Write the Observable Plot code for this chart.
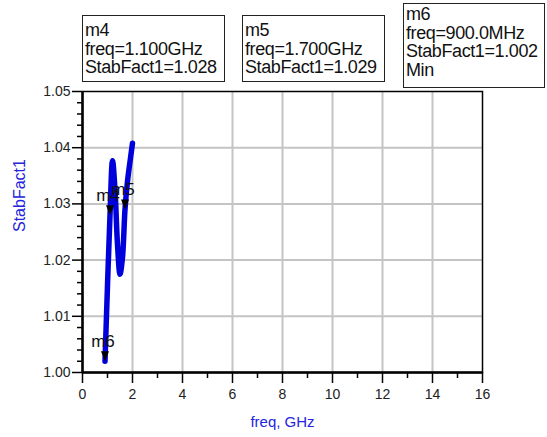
<!DOCTYPE html>
<html>
<head>
<meta charset="utf-8">
<script src="https://cdn.jsdelivr.net/npm/d3@7"></script>
<script src="https://cdn.jsdelivr.net/npm/@observablehq/plot@0.6"></script>
<style>
  html, body { margin: 0; padding: 0; background: white; }
  #wrap { position: relative; width: 547px; height: 437px; overflow: hidden; }
  .mbox {
    position: absolute; box-sizing: border-box; border: 1px solid #222; background: white;
    font-family: "Liberation Sans", Arial, sans-serif; font-size: 18px; letter-spacing: -0.4px;
    line-height: 18.6px; color: #111; padding-left: 2px; white-space: nowrap;
  }
</style>
</head>
<body>
<div id="wrap"></div>
<script>
// ---- data ----
const freq = [0.9, 1.0, 1.1, 1.2, 1.3, 1.4, 1.5, 1.6, 1.7, 1.8, 1.9, 2.0];
const stab = [1.002, 1.0155, 1.028, 1.0377, 1.0325, 1.0228, 1.0175, 1.0205, 1.029, 1.034, 1.0375, 1.0408];

const markerNames = ["m4", "m5", "m6"];
const markerFreq = [1.1, 1.7, 0.9];
const markerStab = [1.028, 1.029, 1.002];
const markerFreqText = ["1.100GHz", "1.700GHz", "900.0MHz"];
const markerStabText = ["1.028", "1.029", "1.002"];
const markerExtra = ["", "", "Min"];

const xMajorTicks = [0, 2, 4, 6, 8, 10, 12, 14, 16];
const xMinorTicks = [1, 3, 5, 7, 9, 11, 13, 15];
const yMajorTicks = [1.00, 1.01, 1.02, 1.03, 1.04, 1.05];
const yMinorTicks = [1.002, 1.004, 1.006, 1.008, 1.012, 1.014, 1.016, 1.018, 1.022, 1.024, 1.026, 1.028,
                     1.032, 1.034, 1.036, 1.038, 1.042, 1.044, 1.046, 1.048];
const xGrid = [2, 4, 6, 8, 10, 12, 14];
const yGrid = [1.01, 1.02, 1.03, 1.04];

const xLabel = "freq, GHz";
const yLabel = "StabFact1";

// ---- build ----
const curve = freq.map((f, i) => ({f, v: stab[i]}));
const markers = markerNames.map((n, i) => ({name: n, f: markerFreq[i], v: markerStab[i]}));

const downTriangle = {
  draw(ctx) {
    ctx.moveTo(0, 0);
    ctx.lineTo(-4, -10);
    ctx.lineTo(4, -10);
    ctx.closePath();
  }
};

const blue = "#0000dd";
const labelBlue = "#2424dd";

const chart = Plot.plot({
  width: 547,
  height: 437,
  marginLeft: 82,
  marginRight: 65,
  marginTop: 91,
  marginBottom: 65,
  style: {fontFamily: "'Liberation Sans', Arial, sans-serif", fontSize: "14px", background: "white", color: "#222"},
  x: {domain: [0, 16]},
  y: {domain: [1.0, 1.05]},
  marks: [
    Plot.gridX(xGrid, {stroke: "#c4c4c4", strokeOpacity: 1, strokeWidth: 2}),
    Plot.gridY(yGrid, {stroke: "#c4c4c4", strokeOpacity: 1, strokeWidth: 2}),
    Plot.frame({stroke: "black", strokeWidth: 1.5}),
    Plot.axisX({ticks: xMajorTicks, tickSize: 11, tickPadding: 6, strokeWidth: 1.5, stroke: "black", tickFormat: d3.format("d"), label: null}),
    Plot.axisX({ticks: xMinorTicks, tickSize: 6, strokeWidth: 1.5, stroke: "black", tickFormat: () => "", label: null}),
    Plot.axisY({ticks: yMajorTicks, tickSize: 10, tickPadding: 2, strokeWidth: 1.5, stroke: "black", tickFormat: d3.format(".2f"), label: null}),
    Plot.axisY({ticks: yMinorTicks, tickSize: 5, strokeWidth: 1.5, stroke: "black", tickFormat: () => "", label: null}),
    Plot.ruleX([0], {stroke: "black", strokeWidth: 2.5}),
    Plot.ruleY([1.0], {stroke: "black", strokeWidth: 2.5}),
    Plot.line(curve, {x: "f", y: "v", stroke: blue, strokeWidth: 5.5, curve: "catmull-rom", strokeLinecap: "round", strokeLinejoin: "round"}),
    Plot.dot(markers, {x: "f", y: "v", symbol: downTriangle, fill: "black", stroke: "none", r: 5}),
    Plot.text(markers, {x: "f", y: "v", text: "name", dy: -20, dx: -2, fontSize: 17, fill: "#111", textAnchor: "middle"}),
    Plot.text([xLabel], {frameAnchor: "bottom", dy: 54, fontSize: 15, fill: labelBlue}),
    Plot.text([yLabel], {frameAnchor: "left", dx: -63, rotate: -90, fontSize: 16, fill: labelBlue})
  ]
});

const wrap = document.getElementById("wrap");
wrap.appendChild(chart);

// marker readout boxes
const boxLayout = [
  {left: 82, top: 15, width: 143, height: 67, padTop: 5},
  {left: 242, top: 15, width: 143, height: 67, padTop: 5},
  {left: 403, top: 3, width: 142, height: 85, padTop: 1}
];
markerNames.forEach((n, i) => {
  const b = boxLayout[i];
  const div = document.createElement("div");
  div.className = "mbox";
  div.style.left = b.left + "px";
  div.style.top = b.top + "px";
  div.style.width = b.width + "px";
  div.style.height = b.height + "px";
  div.style.paddingTop = b.padTop + "px";
  const lines = [n, "freq=" + markerFreqText[i], "StabFact1=" + markerStabText[i]];
  if (markerExtra[i]) lines.push(markerExtra[i]);
  lines.forEach(t => {
    const l = document.createElement("div");
    l.textContent = t;
    div.appendChild(l);
  });
  wrap.appendChild(div);
});
</script>
</body>
</html>
